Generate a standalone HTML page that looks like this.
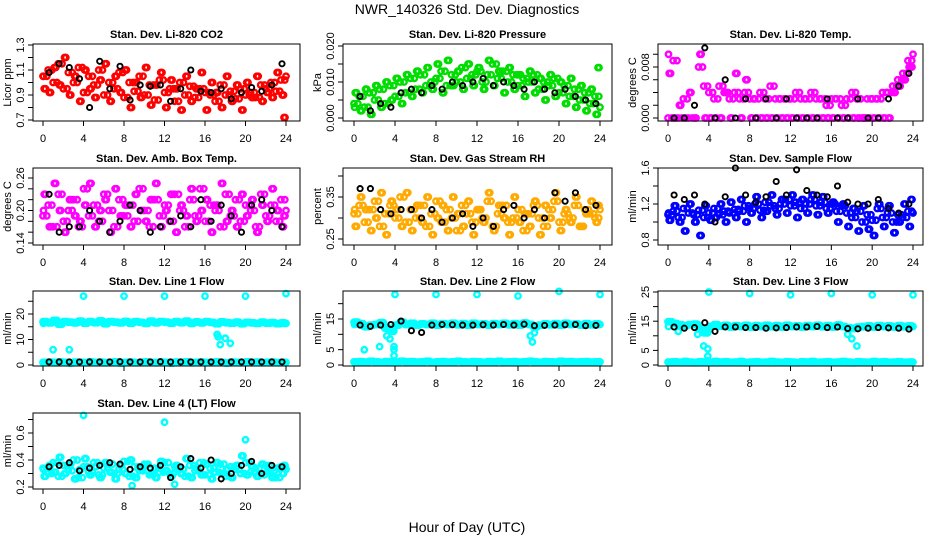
<!DOCTYPE html>
<html><head><meta charset="utf-8"><title>NWR_140326 Std. Dev. Diagnostics</title>
<style>
body{margin:0;background:#fff;}
svg{display:block;font-family:"Liberation Sans",Arial,sans-serif;}
</style></head>
<body>
<svg id="chart" width="936" height="540" viewBox="0 0 936 540" xmlns="http://www.w3.org/2000/svg">
<rect width="936" height="540" fill="#fff"/>
<text x="467" y="14" font-size="14" text-anchor="middle">NWR_140326  Std. Dev. Diagnostics</text>
<text x="467" y="532" font-size="14" text-anchor="middle">Hour of Day (UTC)</text>
</svg>
<script>
// ---- data ----
const xTicks = [0,4,8,12,16,20,24];
const halfHours = [0,0.5,1,1.5,2,2.5,3,3.5,4,4.5,5,5.5,6,6.5,7,7.5,8,8.5,9,9.5,10,10.5,11,11.5,12,12.5,13,13.5,14,14.5,15,15.5,16,16.5,17,17.5,18,18.5,19,19.5,20,20.5,21,21.5,22,22.5,23,23.5,24];
const altHours = [0.25,0.75,1.25,1.75,2.25,2.75,3.25,3.75,4.25,4.75,5.25,5.75,6.25,6.75,7.25,7.75,8.25,8.75,9.25,9.75,10.25,10.75,11.25,11.75,12.25,12.75,13.25,13.75,14.25,14.75,15.25,15.75,16.25,16.75,17.25,17.75,18.25,18.75,19.25,19.75,20.25,20.75,21.25,21.75,22.25,22.75,23.25,23.75,23.9];
const hoursC = [0.12,0.62,1.12,1.62,2.12,2.62,3.12,3.62,4.12,4.62,5.12,5.62,6.12,6.62,7.12,7.62,8.12,8.62,9.12,9.62,10.12,10.62,11.12,11.62,12.12,12.62,13.12,13.62,14.12,14.62,15.12,15.62,16.12,16.62,17.12,17.62,18.12,18.62,19.12,19.62,20.12,20.62,21.12,21.62,22.12,22.62,23.12,23.62,23.8];
const hoursD = [0.38,0.88,1.38,1.88,2.38,2.88,3.38,3.88,4.38,4.88,5.38,5.88,6.38,6.88,7.38,7.88,8.38,8.88,9.38,9.88,10.38,10.88,11.38,11.88,12.38,12.88,13.38,13.88,14.38,14.88,15.38,15.88,16.38,16.88,17.38,17.88,18.38,18.88,19.38,19.88,20.38,20.88,21.38,21.88,22.38,22.88,23.38,23.88,0.05];
const blackHours = [0.6,1.6,2.6,3.6,4.6,5.6,6.6,7.6,8.6,9.6,10.6,11.6,12.6,13.6,14.6,15.6,16.6,17.6,18.6,19.6,20.6,21.6,22.6,23.6];

const co2A = [1.05,1.1,1.0,1.15,0.95,1.08,1.0,1.12,0.92,1.05,0.98,1.1,0.9,1.0,0.95,1.08,0.88,1.0,0.93,1.05,0.9,0.98,0.86,1.02,0.92,0.95,0.85,1.0,0.9,0.97,0.88,0.95,0.92,0.9,0.85,0.98,0.9,0.93,0.87,0.95,0.9,0.92,0.88,0.98,0.95,1.0,0.93,1.02,1.05];
const co2B = [0.95,0.92,1.12,0.98,1.2,0.9,1.05,0.85,1.1,0.95,0.88,1.02,1.15,0.85,1.05,0.92,1.1,0.8,1.0,0.88,1.12,0.82,0.98,1.08,0.8,1.02,0.95,0.78,1.05,0.85,0.95,1.08,0.78,1.0,0.92,0.8,1.05,0.85,0.98,0.78,1.0,0.88,1.05,0.85,0.92,0.88,1.08,0.9,0.72];
const co2K = [1.08,1.15,1.12,1.03,0.8,1.17,0.95,1.13,0.86,0.98,0.97,0.98,0.85,0.95,1.1,0.93,0.92,0.95,0.87,0.92,0.96,0.93,0.98,1.15];

const presA = [.004,.006,.003,.007,.005,.008,.004,.009,.006,.010,.007,.011,.008,.012,.009,.010,.011,.013,.009,.012,.010,.014,.011,.012,.013,.010,.012,.015,.011,.013,.010,.012,.009,.011,.010,.012,.008,.010,.009,.011,.007,.009,.006,.008,.005,.007,.004,.006,.003];
const presB = [.007,.002,.008,.001,.009,.003,.010,.005,.011,.004,.012,.006,.013,.007,.014,.008,.015,.007,.016,.009,.013,.008,.015,.009,.014,.008,.016,.009,.013,.007,.014,.008,.012,.006,.013,.007,.011,.005,.012,.006,.010,.004,.011,.003,.009,.002,.008,.001,.014];
const presK = [.006,.002,.004,.003,.007,.008,.007,.009,.008,.010,.009,.010,.011,.009,.010,.009,.008,.010,.008,.007,.008,.006,.005,.004];

const tempA = [0,0.009,0.0,0.003,0.0,0.012,0.008,0.005,0.004,0.003,0.005,0.004,0.003,0.004,0.003,0.004,0.003,0.003,0.004,0.003,0.005,0.003,0.003,0.003,0.003,0.004,0.003,0.003,0.004,0.003,0.003,0.002,0.003,0.003,0.002,0.003,0.004,0.003,0.0,0.003,0.003,0.003,0.004,0.004,0.005,0.006,0.007,0.009,0.01];
const tempB = [0.007,0.0,0.002,0.0,0.004,0.0,0.010,0.0,0.0,0.0,0.0,0.004,0.0,0.007,0.0,0.006,0.0,0.0,0.0,0.0,0.0,0.0,0.0,0.0,0.0,0.0,0.0,0.0,0.0,0.0,0.0,0.0,0.0,0.0,0.0,0.0,0.0,0.0,0.0,0.0,0.0,0.0,0.0,0.0,0.004,0.005,0.006,0.008,0.008];
const tempK = [0,0,0.002,0.011,0.0,0.006,0.0,0.003,0.0,0.003,0.0,0.003,0.0,0.0,0.0,0.003,0.0,0.0,0.003,0.0,0.0,0.003,0.005,0.007];

const boxA = [.19,.21,.17,.23,.18,.20,.22,.17,.24,.19,.21,.18,.23,.20,.17,.22,.19,.21,.18,.24,.20,.17,.22,.19,.21,.18,.23,.20,.17,.22,.19,.24,.18,.21,.20,.17,.23,.19,.22,.18,.21,.20,.17,.23,.19,.21,.18,.22,.20];
const boxB = [.23,.17,.25,.20,.16,.22,.19,.18,.21,.25,.17,.20,.22,.16,.24,.19,.21,.17,.23,.20,.18,.22,.25,.17,.20,.23,.16,.21,.19,.24,.18,.20,.22,.16,.21,.25,.18,.20,.17,.23,.19,.22,.16,.21,.18,.24,.20,.17,.19];
const boxK = [.23,.16,.17,.17,.20,.18,.16,.18,.21,.20,.16,.17,.18,.19,.17,.22,.18,.21,.19,.16,.21,.22,.20,.17];

const rhA = [.31,.33,.29,.32,.34,.28,.31,.33,.30,.35,.29,.32,.30,.33,.28,.31,.34,.29,.32,.30,.27,.33,.31,.29,.32,.30,.34,.28,.31,.33,.29,.30,.32,.27,.31,.33,.30,.28,.32,.34,.29,.31,.30,.33,.28,.32,.31,.30,.32];
const rhB = [.28,.35,.32,.27,.30,.36,.26,.34,.32,.28,.36,.27,.33,.29,.35,.26,.30,.33,.27,.35,.31,.28,.34,.26,.32,.29,.36,.27,.33,.30,.26,.35,.29,.31,.28,.34,.26,.33,.30,.36,.27,.32,.29,.35,.28,.31,.34,.29,.33];
const rhK = [.37,.37,.32,.31,.32,.32,.30,.32,.29,.30,.31,.28,.30,.28,.32,.33,.30,.32,.30,.36,.34,.36,.32,.33];

const sfA = [1.08,1.12,1.05,1.15,1.1,1.08,1.13,1.05,1.1,1.15,1.08,1.12,1.1,1.14,1.12,1.18,1.15,1.2,1.13,1.22,1.18,1.15,1.2,1.25,1.18,1.22,1.15,1.2,1.25,1.18,1.22,1.15,1.2,1.12,1.18,1.1,1.05,1.12,1.0,1.08,1.02,1.15,1.05,1.1,1.0,1.08,1.05,1.12,1.1];
const sfB = [1.02,1.18,1.0,0.9,1.2,1.0,0.85,1.18,1.02,1.05,1.2,1.0,1.22,1.05,1.25,1.0,1.1,1.28,1.05,1.12,1.3,1.08,1.25,1.1,1.3,1.05,1.25,1.1,1.3,1.08,1.28,1.1,1.22,1.0,1.2,0.95,1.15,0.9,1.18,0.92,0.85,1.2,0.95,1.18,0.88,1.0,1.2,0.95,1.25];
const sfK = [1.3,1.25,1.3,1.2,1.0,1.28,1.6,1.3,1.22,1.28,1.45,1.3,1.58,1.35,1.3,1.28,1.4,1.22,1.2,1.2,1.25,1.15,1.1,1.2];

const l1High = [17,16.5,17.5,16,17,16.8,16.5,17.2,16.4,17,16.6,17.3,16.2,17,16.8,16.5,17.1,16.4,17,16.7,16.3,17.2,16.5,17,16.8,16.4,17,16.6,17.2,16.3,16.9,16.5,17,16.7,16.2,16.9,16.6,16.4,16.8,16.2,16.7,16.5,16.3,16.8,16.4,16.6,16.2,16.5,16.3];
const l1Low = [1,1.1,0.9,1.2,1,0.8,1.1,1,0.9,1.2,1,1.1,0.9,1,1.2,0.8,1,1.1,0.9,1,1.2,1,0.9,1.1,1,0.8,1.1,1,1.2,0.9,1,1.1,0.9,1,1.2,1,0.8,1.1,1,0.9,1.2,1,1.1,0.9,1,1.1,0.9,1,1];
const l1K = [1.2,1.2,1.2,1.2,1.2,1.2,1.2,1.3,1.2,1.2,1.2,1.3,1.2,1.2,1.2,1.2,1.2,1.2,1.2,1.2,1.2,1.2,1.2,1.2];
const l1OutH = [4,8,12,16,20,24,1,2.6,17.2,17.3,17.5,18,18.5];
const l1OutV = [27,27,27,27,27,28,6,6,12,11,8,10.5,8.5];

const l2High = [14,13.5,12.5,13,13.2,13.8,12,11,13,14,13.2,13.6,13,13.4,13.2,13.6,13,13.5,13.2,13.6,13.1,13.5,13,13.6,13.2,13.4,13,13.5,13.2,13.6,13.1,13.5,13,13.7,13.2,12.5,13,13.4,13.1,13.5,13,13.6,13.2,13.4,13,13.5,13.1,13.4,13.2];
const l2Low = l1Low;
const l2K = [13,12.6,13,13.2,14.3,11.2,10.6,13,13.2,13.1,13,13,13.1,13,13.2,13,13.3,12.8,12.9,13,13.1,13.2,12.8,12.9];
const l2OutH = [1,2.5,3.2,3.5,3.9,3.9,3.9,4,8,12,16,17.2,17.4,17.6,20,24];
const l2OutV = [5,6,9.5,8.5,3,6,5,23,23,23,22.5,9.5,7.5,10.5,24,23];

const l3High = [14.8,14.2,13.8,13.5,13.8,14,12.5,11,13.2,13.8,13.3,13.6,13,13.5,13.2,13.6,13,13.5,13.2,13.6,13.1,13.5,13,13.6,13.2,13.4,13,13.5,13.2,13.6,13.1,13.5,13,13.7,13.2,12.8,12.5,13,13.1,13.4,13,13.5,13.2,13.4,13,13.5,13.1,13.4,13.2];
const l3Low = l1Low;
const l3K = [13,12.6,12.8,14.5,11.5,13,13,12.8,12.8,12.6,12.7,12.8,13,13,13.2,12.8,13,12.5,12.4,12.6,12.8,12.7,12.6,12.3];
const l3OutH = [1,2.9,3.5,3.9,3.9,3.9,4,8,12,16,17.6,18,18.5,20,24];
const l3OutV = [11.5,10.5,6.5,5.5,3,1.5,25,24.5,24,24.5,10.5,9,6.5,24,24];

const l4A = [.34,.30,.38,.28,.36,.32,.40,.27,.35,.31,.38,.29,.34,.37,.30,.33,.39,.28,.35,.32,.37,.29,.34,.31,.38,.30,.35,.33,.28,.36,.32,.38,.29,.34,.31,.37,.28,.35,.33,.30,.38,.31,.34,.29,.36,.32,.27,.35,.33];
const l4B = [.28,.36,.31,.42,.30,.37,.26,.33,.41,.29,.35,.27,.38,.31,.26,.36,.30,.40,.27,.33,.36,.30,.27,.39,.32,.28,.36,.30,.41,.27,.34,.29,.37,.26,.38,.30,.33,.27,.36,.43,.29,.35,.28,.37,.31,.27,.34,.30,.36];
const l4K = [.35,.36,.38,.32,.34,.36,.38,.37,.33,.35,.34,.36,.27,.35,.41,.34,.40,.26,.30,.36,.39,.30,.36,.35];
const l4OutH = [4,12,20,8.8,13];
const l4OutV = [.73,.68,.55,.21,.22];

// ---- layout ----
const svg = document.getElementById('chart');
const NS = 'http://www.w3.org/2000/svg';
function el(tag, attrs, parent){const e=document.createElementNS(NS,tag);for(const k in attrs)e.setAttribute(k,attrs[k]);(parent||svg).appendChild(e);return e;}

const cols = [{l:33,r:300,x0:43,x24:286},{l:343,r:612,x0:354,x24:600},{l:658,r:923,x0:668,x24:913}];
const rows = [{t:44,b:121},{t:168,b:245},{t:291,b:366},{t:413,b:489}];

function cloud(a,b,col){return [[halfHours,a,col],[altHours,b,col],[hoursC,b,col],[hoursD,a,col]];}

const panels = [
 {name:'co2',title:'Stan. Dev. Li-820 CO2',ylab:'Licor ppm',c:0,r:0,v0:0.7,p0:120,v1:1.3,p1:45,ticks:[0.7,0.8,0.9,1.0,1.1,1.2,1.3],labels:[0.7,0.9,1.1,1.3],fmt:1,
  series:[...cloud(co2A,co2B,'#ff0000'),[blackHours,co2K,'#000']]},
 {name:'pressure',title:'Stan. Dev. Li-820 Pressure',ylab:'kPa',c:1,r:0,v0:0,p0:118,v1:0.02,p1:46,ticks:[0,0.005,0.01,0.015,0.02],labels:[0,0.01,0.02],fmt:3,
  series:[...cloud(presA,presB,'#00dd00'),[blackHours,presK,'#000']]},
 {name:'temp',title:'Stan. Dev. Li-820 Temp.',ylab:'degrees C',c:2,r:0,v0:0,p0:118,v1:0.008,p1:67,ticks:[0,0.002,0.004,0.006,0.008,0.010,0.012],labels:[0,0.008],fmt:3,
  series:[...cloud(tempA,tempB,'#ff00ff'),[blackHours,tempK,'#000']]},
 {name:'amb-box-temp',title:'Stan. Dev. Amb. Box Temp.',ylab:'degrees C',c:0,r:1,v0:0.14,p0:243,v1:0.26,p1:178,ticks:[0.14,0.16,0.18,0.20,0.22,0.24,0.26],labels:[0.14,0.20,0.26],fmt:2,
  series:[...cloud(boxA,boxB,'#ff00ff'),[blackHours,boxK,'#000']]},
 {name:'rh',title:'Stan. Dev. Gas Stream RH',ylab:'percent',c:1,r:1,v0:0.25,p0:239,v1:0.35,p1:197,ticks:[0.25,0.30,0.35,0.40],labels:[0.25,0.35],fmt:2,
  series:[...cloud(rhA,rhB,'#ffaa00'),[blackHours,rhK,'#000']]},
 {name:'sample-flow',title:'Stan. Dev. Sample Flow',ylab:'ml/min',c:2,r:1,v0:0.8,p0:240,v1:1.6,p1:168,ticks:[0.8,1.0,1.2,1.4,1.6],labels:[0.8,1.2,1.6],fmt:1,
  series:[...cloud(sfA,sfB,'#0000ff'),[blackHours,sfK,'#000']]},
 {name:'line1-flow',title:'Stan. Dev. Line 1 Flow',ylab:'ml/min',c:0,r:2,v0:0,p0:365,v1:20,p1:314,ticks:[0,5,10,15,20,25],labels:[0,10,20],fmt:0,
  series:[...cloud(l1High,l1High,'#00ffff'),...cloud(l1Low,l1Low,'#00ffff'),[l1OutH,l1OutV,'#00ffff'],[blackHours,l1K,'#000']]},
 {name:'line2-flow',title:'Stan. Dev. Line 2 Flow',ylab:'ml/min',c:1,r:2,v0:0,p0:365,v1:15,p1:319,ticks:[0,5,10,15,20],labels:[0,5,15],fmt:0,
  series:[...cloud(l2High,l2High,'#00ffff'),...cloud(l2Low,l2Low,'#00ffff'),[l2OutH,l2OutV,'#00ffff'],[blackHours,l2K,'#000']]},
 {name:'line3-flow',title:'Stan. Dev. Line 3 Flow',ylab:'ml/min',c:2,r:2,v0:0,p0:365,v1:25,p1:292,ticks:[0,5,10,15,20,25],labels:[0,5,15,25],fmt:0,
  series:[...cloud(l3High,l3High,'#00ffff'),...cloud(l3Low,l3Low,'#00ffff'),[l3OutH,l3OutV,'#00ffff'],[blackHours,l3K,'#000']]},
 {name:'line4-flow',title:'Stan. Dev. Line 4 (LT) Flow',ylab:'ml/min',c:0,r:3,v0:0.2,p0:487,v1:0.6,p1:433,ticks:[0.2,0.3,0.4,0.5,0.6,0.7],labels:[0.2,0.4,0.6],fmt:1,
  series:[...cloud(l4A,l4B,'#00ffff'),[l4OutH,l4OutV,'#00ffff'],[blackHours,l4K,'#000']]}
];

panels.forEach(p=>{
  const C=cols[p.c], R=rows[p.r];
  const g=el('g',{});
  
  
  const xs=h=>C.x0+(C.x24-C.x0)*h/24;
  const ys=v=>p.p0+(p.p1-p.p0)*(v-p.v0)/(p.v1-p.v0);
  const cx=(C.l+C.r)/2;
  const t=el('text',{x:cx,y:R.t-6,'font-size':11,'font-weight':'bold','text-anchor':'middle'},g);
  t.textContent=p.title;
  
  
  const pg=el('g',{fill:'none'},g);
  
  
  p.series.forEach(s=>{
    const [hs,vs,col]=s;
    const black = col==='#000';
    vs.forEach((v,i)=>{
      const y=ys(v); if(y<R.t-2||y>R.b+2) return;
      const c=el('circle',{cx:xs(hs[i]).toFixed(1),cy:y.toFixed(1),r:black?2.6:2.7,stroke:col,'stroke-width':black?1.9:2.4},pg);
      
      
    });
  });
  const b=el('rect',{x:C.l,y:R.t,width:C.r-C.l,height:R.b-R.t,fill:'none',stroke:'#000','stroke-width':1},g);
  
  
  const xa=el('g',{},g);
  
  
  el('line',{x1:xs(0),x2:xs(24),y1:R.b,y2:R.b,stroke:'#000'},xa);
  xTicks.forEach(h=>{
    el('line',{x1:xs(h),x2:xs(h),y1:R.b,y2:R.b+5,stroke:'#000'},xa);
    const tl=el('text',{x:xs(h),y:R.b+21,'font-size':11,'text-anchor':'middle'},xa);
    tl.textContent=h;
  });
  const ya=el('g',{},g);
  
  
  const tv=p.ticks.filter(v=>{const y=ys(v);return y>=R.t-1&&y<=R.b+1;});
  el('line',{x1:C.l,x2:C.l,y1:ys(tv[0]),y2:ys(tv[tv.length-1]),stroke:'#000'},ya);
  tv.forEach(v=>{el('line',{x1:C.l-5,x2:C.l,y1:ys(v),y2:ys(v),stroke:'#000'},ya);});
  p.labels.forEach(v=>{
    const y=ys(v), x=C.l-9;
    const tl=el('text',{x:x,y:y,'font-size':11,'text-anchor':'middle',transform:`rotate(-90 ${x} ${y})`},ya);
    tl.textContent=v.toFixed(p.fmt);
  });
  const yx=C.l-22, yy=(R.t+R.b)/2;
  const yl=el('text',{x:yx,y:yy,'font-size':11,'text-anchor':'middle',transform:`rotate(-90 ${yx} ${yy})`},g);
  yl.textContent=p.ylab;
  
  
});
</script>
</body></html>
